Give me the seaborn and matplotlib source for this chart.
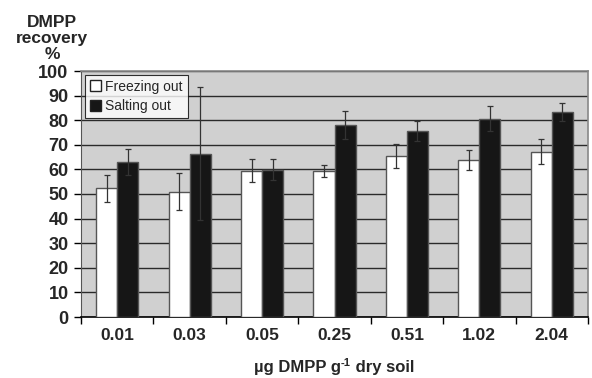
import seaborn as sns
import matplotlib.pyplot as plt
import numpy as np
import pandas as pd

# values
doses = ['0.01', '0.03', '0.05', '0.25', '0.51', '1.02', '2.04']
freezing = [52.3, 51.0, 59.5, 59.2, 65.3, 63.8, 67.1]
freezing_err = [5.6, 7.6, 4.7, 2.4, 4.9, 4.2, 5.1]
salting = [63.0, 66.3, 59.9, 78.0, 75.7, 80.6, 83.3]
salting_err = [5.2, 27.0, 4.2, 5.6, 4.0, 5.0, 3.7]
methods = ['Freezing out', 'Salting out']

sns.set_style("white")
plt.rcParams['font.family'] = ['Liberation Sans', 'DejaVu Sans']

df = pd.DataFrame({
    'dose': doses * 2,
    'recovery': freezing + salting,
    'method': [methods[0]] * len(doses) + [methods[1]] * len(doses),
})

W, H = 592, 378
fig = plt.figure(figsize=(W / 100, H / 100), dpi=100)
ax = fig.add_axes([81 / W, 1 - 317 / H, 507 / W, 246 / H])
ax.set_facecolor('#d0d0d0')

sns.barplot(data=df, x='dose', y='recovery', hue='method', order=doses,
            hue_order=methods, palette=['white', '#161616'], width=0.58,
            errorbar=None, edgecolor='#555555', linewidth=1.0, ax=ax, zorder=3)

# error bars on top of each bar
for cont, errs in zip(ax.containers, [freezing_err, salting_err]):
    xs = [b.get_x() + b.get_width() / 2 for b in cont]
    ys = [b.get_height() for b in cont]
    ax.errorbar(xs, ys, yerr=errs, fmt='none', ecolor='#333333',
                elinewidth=0.9, capsize=2.5, capthick=0.9, zorder=4)

ax.set_ylim(0, 100)
ax.set_xlim(-0.5, len(doses) - 0.5)
ax.set_yticks(np.arange(0, 101, 10))
ax.yaxis.grid(True, color='#2a2a2a', linewidth=1.0, zorder=1)
ax.set_axisbelow(True)

ax.tick_params(axis='y', which='major', direction='out', length=5,
               width=1, color='black', labelsize=13, pad=4, left=True)
ax.tick_params(axis='x', which='major', length=0, labelsize=12.5, pad=8)
ax.set_xticks(np.arange(-0.5, len(doses), 1.0), minor=True)
ax.tick_params(axis='x', which='minor', direction='out', length=5,
               width=1, color='black', bottom=True)
for lab in ax.get_yticklabels() + ax.get_xticklabels():
    lab.set_fontweight('bold')

for side in ['top', 'right']:
    ax.spines[side].set_color('#888888')
    ax.spines[side].set_linewidth(1.2)
ax.spines['left'].set_color('#555555')
ax.spines['bottom'].set_color('black')
ax.spines['bottom'].set_linewidth(1.2)

ax.set_ylabel('')
ax.set_xlabel('')

# y axis title above the axis
fig.text(52 / W, 1 - 15 / H, 'DMPP\nrecovery\n%', ha='center', va='top',
         fontsize=12.5, fontweight='bold', linespacing=1.08)

# x axis title with a plain hyphen superscript, built from pieces
fig.canvas.draw()
rend = fig.canvas.get_renderer()
ybase = 1 - 372 / H
parts = [('µg DMPP g', 12, 0), ('-1', 8, 6), (' dry soil', 12, 0)]
texts = []
for s, fs, dy in parts:
    t = fig.text(0, ybase + dy / H, s, fontsize=fs, fontweight='bold',
                 ha='left', va='baseline')
    texts.append(t)
widths = [t.get_window_extent(rend).width for t in texts]
x = 334 - sum(widths) / 2
for t, w in zip(texts, widths):
    t.set_x(x / W)
    x += w

leg = ax.legend(loc='upper left', bbox_to_anchor=(0.008, 0.985),
                frameon=True, fancybox=False, fontsize=10,
                handlelength=0.8, handleheight=0.8, handletextpad=0.3,
                borderpad=0.35, labelspacing=0.4, borderaxespad=0)
leg.get_frame().set_edgecolor('black')
leg.get_frame().set_linewidth(0.8)
leg.get_frame().set_facecolor('white')
for h in leg.legend_handles:
    h.set_edgecolor('#222222')

fig.savefig('out.png', dpi=100)
